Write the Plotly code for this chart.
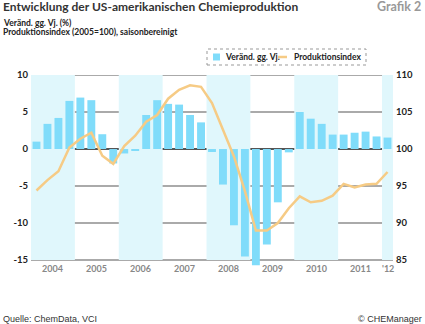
import plotly.graph_objects as go

# Quarterly data, 2004 Q1 .. 2012 Q1
quarters = [f"{y} Q{q}" for y in range(2004, 2012) for q in range(1, 5)] + ["2012 Q1"]
change_yoy = [1.0, 3.4, 4.2, 6.5,
              6.95, 6.6, 2.0, -1.95,
              -0.6, -0.2, 4.6, 6.6,
              6.1, 6.0, 4.6, 3.6,
              -0.4, -4.8, -10.3, -14.5,
              -15.7, -12.9, -7.2, -0.45,
              5.0, 4.1, 3.4, 1.95,
              1.95, 2.2, 2.35, 1.7,
              1.55]
prod_index = [94.4, 95.8, 97.0, 100.2,
              101.4, 102.2, 99.1, 98.0,
              100.4, 101.8, 103.7, 104.6,
              106.8, 108.0, 108.6, 108.4,
              106.2, 102.6, 99.0, 94.3,
              89.0, 89.0, 90.0, 92.0,
              93.6, 92.8, 93.0, 93.7,
              95.3, 94.8, 95.2, 95.3,
              96.9]
year_labels = ["2004", "2005", "2006", "2007", "2008", "2009", "2010", "2011", "'12"]
left_ticks = [-15, -10, -5, 0, 5, 10]
right_ticks = [85, 90, 95, 100, 105, 110]

FONT_B = "Lato, Roboto, sans-serif"
FONT_R = "Liberation Sans, sans-serif"
BAR_C = "#80DCFA"
LINE_C = "#F6CB85"
BAND_C = "#E0F7FC"

W, H = 425, 324
ML, MR, MT, MB = 31, 32, 75, 58
PW, PH = W - ML - MR, H - MT - MB


def px(p):
    return (p - ML) / PW


def py(p):
    return (H - MB - p) / PH


x = list(range(len(quarters)))

fig = go.Figure()
fig.add_trace(go.Bar(x=x, y=change_yoy, name="Veränd. gg. Vj.",
                     marker=dict(color=BAR_C, line=dict(width=0)), width=0.72))
fig.add_trace(go.Scatter(x=x, y=prod_index, name="Produktionsindex", yaxis="y2",
                         mode="lines", line=dict(color=LINE_C, width=2.5)))

# Shaded every other year
for k in range(0, 9, 2):
    x0 = 4 * k - 0.5
    x1 = min(4 * k + 3.5, len(quarters) - 0.5)
    fig.add_shape(type="rect", xref="x", yref="y", x0=x0, x1=x1, y0=-15, y1=10,
                  fillcolor=BAND_C, line=dict(width=0), layer="below")

# Grid lines
for t in left_ticks:
    fig.add_shape(type="line", xref="paper", yref="y", x0=0, x1=1, y0=t, y1=t,
                  line=dict(color="#555555" if t == 0 else "#AAAAAA", width=2),
                  layer="below")

# Year labels
for k, lab in enumerate(year_labels):
    xc = 4 * k + 1.5 if k < 8 else 32
    fig.add_annotation(x=xc, y=-15, xref="x", yref="y", text=f"<b>{lab}</b>",
                       showarrow=False, yanchor="top", yshift=-1,
                       font=dict(family=FONT_B, size=9, color="#888888"))

# Legend
fig.add_shape(type="rect", xref="paper", yref="paper", x0=px(207), x1=px(366),
              y0=py(65), y1=py(49), line=dict(color="#999999", width=1, dash="dot"),
              fillcolor="white")
fig.add_shape(type="rect", xref="paper", yref="paper", x0=px(213), x1=px(220),
              y0=py(60.5), y1=py(53.5), line=dict(width=0), fillcolor=BAR_C)
fig.add_shape(type="line", xref="paper", yref="paper", x0=px(278), x1=px(287),
              y0=py(57), y1=py(57), line=dict(color=LINE_C, width=2.5))
fig.add_annotation(x=px(223), y=py(57), xref="paper", yref="paper", xanchor="left",
                   yanchor="middle", text="<b>Veränd. gg. Vj.</b>", showarrow=False,
                   font=dict(family=FONT_B, size=8.5, color="#222222"))
fig.add_annotation(x=px(292), y=py(57), xref="paper", yref="paper", xanchor="left",
                   yanchor="middle", text="<b>Produktionsindex</b>", showarrow=False,
                   font=dict(family=FONT_B, size=8.5, color="#222222"))

# Titles and footer
fig.add_annotation(x=px(1), y=py(6.5), xref="paper", yref="paper", xanchor="left",
                   yanchor="middle",
                   text="<b>Entwicklung der US-amerikanischen Chemieproduktion</b>",
                   showarrow=False, font=dict(family=FONT_B, size=12, color="#333333"))
fig.add_annotation(x=px(423), y=py(6.5), xref="paper", yref="paper", xanchor="right",
                   yanchor="middle", text="<b>Grafik 2</b>", showarrow=False,
                   font=dict(family=FONT_B, size=12.5, color="#999999"))
fig.add_annotation(x=px(1), y=py(23), xref="paper", yref="paper", xanchor="left",
                   yanchor="middle", text="<b>Veränd. gg. Vj. (%)</b>", showarrow=False,
                   font=dict(family=FONT_B, size=8.5, color="#222222"))
fig.add_annotation(x=px(1), y=py(32), xref="paper", yref="paper", xanchor="left",
                   yanchor="middle",
                   text="<b>Produktionsindex (2005=100), saisonbereinigt</b>",
                   showarrow=False, font=dict(family=FONT_B, size=8.5, color="#222222"))
fig.add_annotation(x=px(1), y=py(318.5), xref="paper", yref="paper", xanchor="left",
                   yanchor="middle", text="Quelle: ChemData, VCI", showarrow=False,
                   font=dict(family=FONT_R, size=9, color="#333333"))
fig.add_annotation(x=px(424), y=py(318.5), xref="paper", yref="paper", xanchor="right",
                   yanchor="middle", text="© CHEManager", showarrow=False,
                   font=dict(family=FONT_R, size=9, color="#333333"))

fig.update_layout(
    width=W, height=H, margin=dict(l=ML, r=MR, t=MT, b=MB),
    paper_bgcolor="white", plot_bgcolor="white",
    barmode="overlay", showlegend=False,
    xaxis=dict(range=[-0.5, len(quarters) - 0.5], showticklabels=False, showgrid=False,
               zeroline=False, ticks=""),
    yaxis=dict(range=[-15.8, 10], tickvals=left_ticks,
               ticktext=[f"<b>{t}</b>" for t in left_ticks],
               showgrid=False, zeroline=False, ticklabelstandoff=2,
               tickfont=dict(family=FONT_B, size=9.5, color="#222222")),
    yaxis2=dict(range=[84.2, 110], overlaying="y", side="right", tickvals=right_ticks,
                ticktext=[f"<b>{t}</b>" for t in right_ticks],
                showgrid=False, zeroline=False, ticklabelstandoff=2,
                tickfont=dict(family=FONT_B, size=9.5, color="#222222")),
)

fig.write_html("out.html")
